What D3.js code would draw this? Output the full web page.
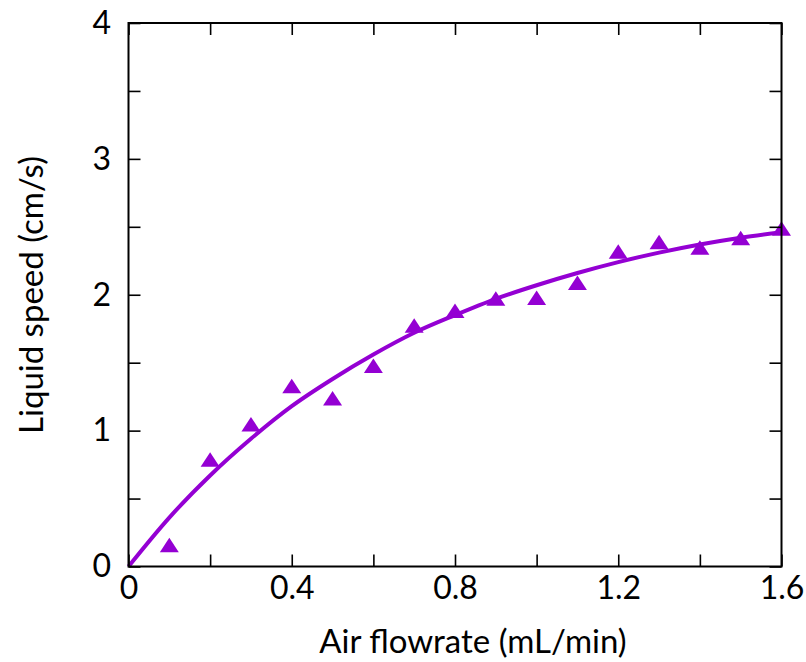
<!DOCTYPE html>
<html>
<head>
<meta charset="utf-8">
<script src="https://cdn.jsdelivr.net/npm/d3@7"></script>
<style>
    body { margin: 0; background: #fff; }
    .axis text { font-family: "Lato", "Open Sans", sans-serif; font-size: 32px; fill: #000; }
    .axis line { stroke: #000; stroke-width: 1.6px; }
    .title { font-family: "Lato", "Open Sans", sans-serif; font-size: 33px; fill: #000; }
</style>
</head>
<body>
<div id="chart"></div>
<script>
// measured points
const flowrate = [0.1, 0.2, 0.3, 0.4, 0.5, 0.6, 0.7, 0.8, 0.9, 1.0, 1.1, 1.2, 1.3, 1.4, 1.5, 1.6];
const speed = [0.14, 0.77, 1.03, 1.31, 1.22, 1.46, 1.755, 1.865, 1.955, 1.96, 2.07, 2.30, 2.37, 2.33, 2.40, 2.47];

// fitted curve
const fitFlow = [0, 0.1, 0.2, 0.3, 0.4, 0.5, 0.6, 0.7, 0.8, 0.9, 1.0, 1.1, 1.2, 1.3, 1.4, 1.5, 1.6];
const fitSpeed = [0, 0.36, 0.67, 0.94, 1.18, 1.38, 1.56, 1.72, 1.85, 1.97, 2.07, 2.16, 2.24, 2.31, 2.37, 2.42, 2.46];

const xTicks = [0, 0.2, 0.4, 0.6, 0.8, 1.0, 1.2, 1.4, 1.6];
const xLabels = ["0", "", "0.4", "", "0.8", "", "1.2", "", "1.6"];
const yTicks = [0, 0.5, 1, 1.5, 2, 2.5, 3, 3.5, 4];
const yLabels = ["0", "", "1", "", "2", "", "3", "", "4"];

const totalW = 806, totalH = 662;
const margin = {top: 23, right: 24.5, bottom: 95.5, left: 128.5};
const width = totalW - margin.left - margin.right;
const height = totalH - margin.top - margin.bottom;
const purple = "#9400d3";

const svg = d3.select("#chart").append("svg")
    .attr("width", totalW)
    .attr("height", totalH);

const g = svg.append("g")
    .attr("transform", `translate(${margin.left},${margin.top})`);

const x = d3.scaleLinear().domain([0, 1.6]).range([0, width]);
const y = d3.scaleLinear().domain([0, 4]).range([height, 0]);

// fit line
const line = d3.line()
    .x(d => x(d[0]))
    .y(d => y(d[1]))
    .curve(d3.curveMonotoneX);

g.append("path")
    .datum(fitFlow.map((f, i) => [f, fitSpeed[i]]))
    .attr("fill", "none")
    .attr("stroke", purple)
    .attr("stroke-width", 4)
    .attr("d", line);

// triangle markers (centroid on the data point)
const tri = {
    draw(context) {
        const w = 19, h = 14.5;
        context.moveTo(0, -2 * h / 3);
        context.lineTo(w / 2, h / 3);
        context.lineTo(-w / 2, h / 3);
        context.closePath();
    }
};

g.selectAll(".pt")
    .data(flowrate.map((f, i) => [f, speed[i]]))
    .enter().append("path")
    .attr("class", "pt")
    .attr("transform", d => `translate(${x(d[0])},${y(d[1])})`)
    .attr("d", d3.symbol().type(tri))
    .attr("fill", purple);

// axes, ticks pointing inward on all sides
g.append("g")
    .attr("class", "axis")
    .attr("transform", `translate(0,${height})`)
    .call(d3.axisBottom(x).tickValues(xTicks).tickSize(-12).tickPadding(10)
        .tickFormat((d, i) => xLabels[i]))
    .call(a => a.select(".domain").remove());

g.append("g")
    .attr("class", "axis")
    .call(d3.axisTop(x).tickValues(xTicks).tickSize(-12).tickFormat(""))
    .call(a => a.select(".domain").remove());

g.append("g")
    .attr("class", "axis")
    .call(d3.axisLeft(y).tickValues(yTicks).tickSize(-12).tickPadding(17.5)
        .tickFormat((d, i) => yLabels[i]))
    .call(a => a.select(".domain").remove());

g.append("g")
    .attr("class", "axis")
    .attr("transform", `translate(${width},0)`)
    .call(d3.axisRight(y).tickValues(yTicks).tickSize(-12).tickFormat(""))
    .call(a => a.select(".domain").remove());

g.append("rect")
    .attr("width", width)
    .attr("height", height)
    .attr("fill", "none")
    .attr("stroke", "#000")
    .attr("stroke-width", 2);

// titles
svg.append("text")
    .attr("class", "title")
    .attr("x", 473)
    .attr("y", 653)
    .attr("text-anchor", "middle")
    .text("Air flowrate (mL/min)");

svg.append("text")
    .attr("class", "title")
    .attr("transform", `translate(43,295) rotate(-90)`)
    .attr("text-anchor", "middle")
    .text("Liquid speed (cm/s)");
</script>
</body>
</html>
